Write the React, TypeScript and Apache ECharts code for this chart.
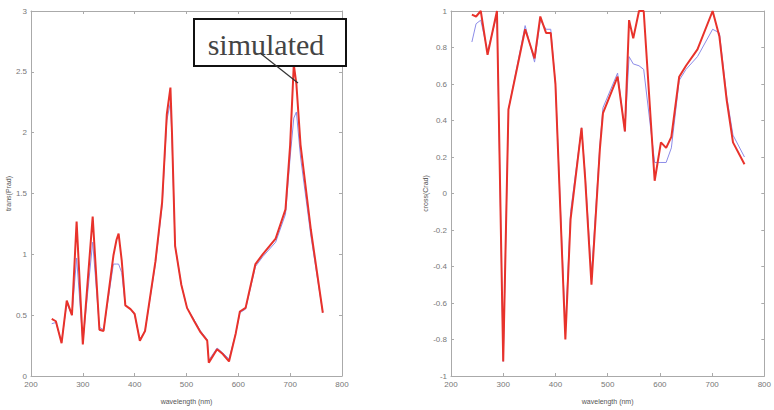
import React, { useEffect, useRef } from "react";
import * as echarts from "echarts";

// Left panel: transmission
const leftWl = [240, 248, 259, 269, 279, 288, 300, 319, 332, 340, 359, 365, 369, 375, 382, 392, 400, 410, 420, 440, 453, 462, 469, 472, 478, 490, 501, 515, 527, 540, 543, 559, 570, 582, 595, 603, 614, 633, 647, 672, 691, 700, 707, 712, 720, 740, 763];
const leftMeasured = [0.47, 0.45, 0.27, 0.62, 0.5, 1.27, 0.26, 1.31, 0.38, 0.37, 0.99, 1.12, 1.17, 0.95, 0.58, 0.55, 0.51, 0.29, 0.37, 0.94, 1.43, 2.15, 2.37, 2.0, 1.07, 0.75, 0.56, 0.45, 0.36, 0.29, 0.11, 0.22, 0.18, 0.12, 0.35, 0.53, 0.56, 0.92, 1.0, 1.13, 1.37, 1.9, 2.56, 2.4, 1.9, 1.2, 0.52];
const leftSimulated = [0.43, 0.44, 0.28, 0.6, 0.5, 0.97, 0.28, 1.1, 0.4, 0.38, 0.92, 0.92, 0.92, 0.85, 0.58, 0.55, 0.5, 0.3, 0.37, 0.92, 1.4, 2.1, 2.25, 1.95, 1.07, 0.75, 0.56, 0.46, 0.37, 0.3, 0.13, 0.23, 0.19, 0.14, 0.35, 0.52, 0.55, 0.9, 0.98, 1.1, 1.33, 1.8, 2.12, 2.17, 1.8, 1.15, 0.52];

// Right panel: cross
const rightWl = [240, 248, 257, 270, 288, 300, 310, 342, 360, 371, 382, 391, 400, 419, 429, 450, 457, 469, 485, 491, 519, 533, 541, 549, 560, 569, 590, 602, 612, 622, 637, 650, 672, 701, 714, 728, 740, 762];
const rightMeasured = [0.98, 0.97, 1.0, 0.76, 1.0, -0.92, 0.46, 0.9, 0.74, 0.97, 0.88, 0.88, 0.6, -0.8, -0.14, 0.36, 0.08, -0.5, 0.24, 0.44, 0.64, 0.34, 0.95, 0.85, 1.0, 1.0, 0.07, 0.28, 0.25, 0.31, 0.64, 0.7, 0.79, 1.0, 0.86, 0.51, 0.28, 0.16];
const rightSimulated = [0.83, 0.93, 0.95, 0.78, 0.98, -0.92, 0.46, 0.92, 0.72, 0.95, 0.9, 0.9, 0.6, -0.75, -0.1, 0.36, 0.1, -0.45, 0.26, 0.47, 0.66, 0.34, 0.75, 0.71, 0.7, 0.68, 0.17, 0.17, 0.17, 0.25, 0.62, 0.68, 0.75, 0.9, 0.88, 0.53, 0.32, 0.2];

const xTitle = "wavelength (nm)";
const leftYTitle = "trans(Prad)";
const rightYTitle = "cross(Crad)";
const annotation = "simulated";

const RED = "#e8322b";
const BLUE = "#8c8ce8";
const AXIS = "#aaaaaa";
const LABEL = "#777777";
const FONT = "'Liberation Sans Narrow', 'Liberation Sans', sans-serif";

function pairs(xs: number[], ys: number[]) {
  return xs.map((x, i) => [x, ys[i]]);
}

function fmt(v: number) {
  const r = Math.round(v * 10) / 10;
  return String(r);
}

export default function App() {
  const ref = useRef<HTMLDivElement>(null);
  useEffect(() => {
    if (!ref.current) return;
    const chart = echarts.init(ref.current, undefined, { renderer: "svg" });
    const axisLine = { show: true, onZero: false, lineStyle: { color: AXIS, width: 1 } };
    const tick = { show: true, inside: true, length: 3, lineStyle: { color: AXIS } };
    const label = { color: LABEL, fontSize: 8, fontFamily: FONT, margin: 4, formatter: (v: number) => fmt(v) };
    const nameStyle = { fontSize: 7, color: "#555555", fontFamily: FONT };
    const xBase = (grid: number) => ({
      type: "value" as const, gridIndex: grid, min: 200, max: 800, interval: 100,
      axisLine, axisTick: tick, splitLine: { show: false },
    });
    const option: any = {
      animation: false,
      grid: [
        { left: 31, top: 11, width: 311, height: 367 },
        { left: 451, top: 11, width: 321, height: 366 },
      ],
      xAxis: [
        { ...xBase(0), position: "bottom", axisLabel: { ...label, showMinLabel: true, showMaxLabel: true },
          name: xTitle, nameLocation: "middle", nameGap: 22, nameTextStyle: nameStyle },
        { ...xBase(0), position: "top", axisLabel: { show: false } },
        { ...xBase(1), position: "bottom", axisLabel: { ...label, showMinLabel: true, showMaxLabel: true },
          name: xTitle, nameLocation: "middle", nameGap: 22, nameTextStyle: nameStyle },
        { ...xBase(1), position: "top", axisLabel: { show: false } },
      ],
      yAxis: [
        { type: "value", gridIndex: 0, min: 0, max: 3, interval: 0.5, position: "left",
          axisLine, axisTick: tick, splitLine: { show: false }, axisLabel: label,
          name: leftYTitle, nameLocation: "middle", nameGap: 16, nameRotate: 90, nameTextStyle: nameStyle },
        { type: "value", gridIndex: 0, min: 0, max: 3, interval: 0.5, position: "right",
          axisLine, axisTick: tick, splitLine: { show: false }, axisLabel: { show: false } },
        { type: "value", gridIndex: 1, min: -1, max: 1, interval: 0.2, position: "left",
          axisLine, axisTick: tick, splitLine: { show: false }, axisLabel: label,
          name: rightYTitle, nameLocation: "middle", nameGap: 19, nameRotate: 90, nameTextStyle: nameStyle },
        { type: "value", gridIndex: 1, min: -1, max: 1, interval: 0.2, position: "right",
          axisLine, axisTick: tick, splitLine: { show: false }, axisLabel: { show: false } },
      ],
      series: [
        { type: "line", xAxisIndex: 0, yAxisIndex: 0, data: pairs(leftWl, leftSimulated), showSymbol: false, symbol: "none",
          lineStyle: { color: BLUE, width: 1 }, z: 2 },
        { type: "line", xAxisIndex: 0, yAxisIndex: 0, data: pairs(leftWl, leftMeasured), showSymbol: false, symbol: "none",
          lineStyle: { color: RED, width: 2 }, z: 3 },
        { type: "line", xAxisIndex: 2, yAxisIndex: 2, data: pairs(rightWl, rightSimulated), showSymbol: false, symbol: "none",
          lineStyle: { color: BLUE, width: 1 }, z: 2 },
        { type: "line", xAxisIndex: 2, yAxisIndex: 2, data: pairs(rightWl, rightMeasured), showSymbol: false, symbol: "none",
          lineStyle: { color: RED, width: 2 }, z: 3 },
      ],
      graphic: [
        { type: "rect", z: 100, shape: { x: 194, y: 19, width: 152, height: 47 },
          style: { fill: "#ffffff", stroke: "#111111", lineWidth: 2 } },
        { type: "text", z: 101, x: 266, y: 44,
          style: { text: annotation, fill: "#444444", font: "30px 'Liberation Serif', serif", align: "center", verticalAlign: "middle" } },
        { type: "line", z: 102, shape: { x1: 260, y1: 53, x2: 298, y2: 83 },
          style: { stroke: "#333333", lineWidth: 1.2 } },
      ],
    };
    chart.setOption(option);
    return () => chart.dispose();
  }, []);
  return <div ref={ref} style={{ position: "fixed", left: 0, top: 0, width: 774, height: 410, background: "#fff" }} />;
}
